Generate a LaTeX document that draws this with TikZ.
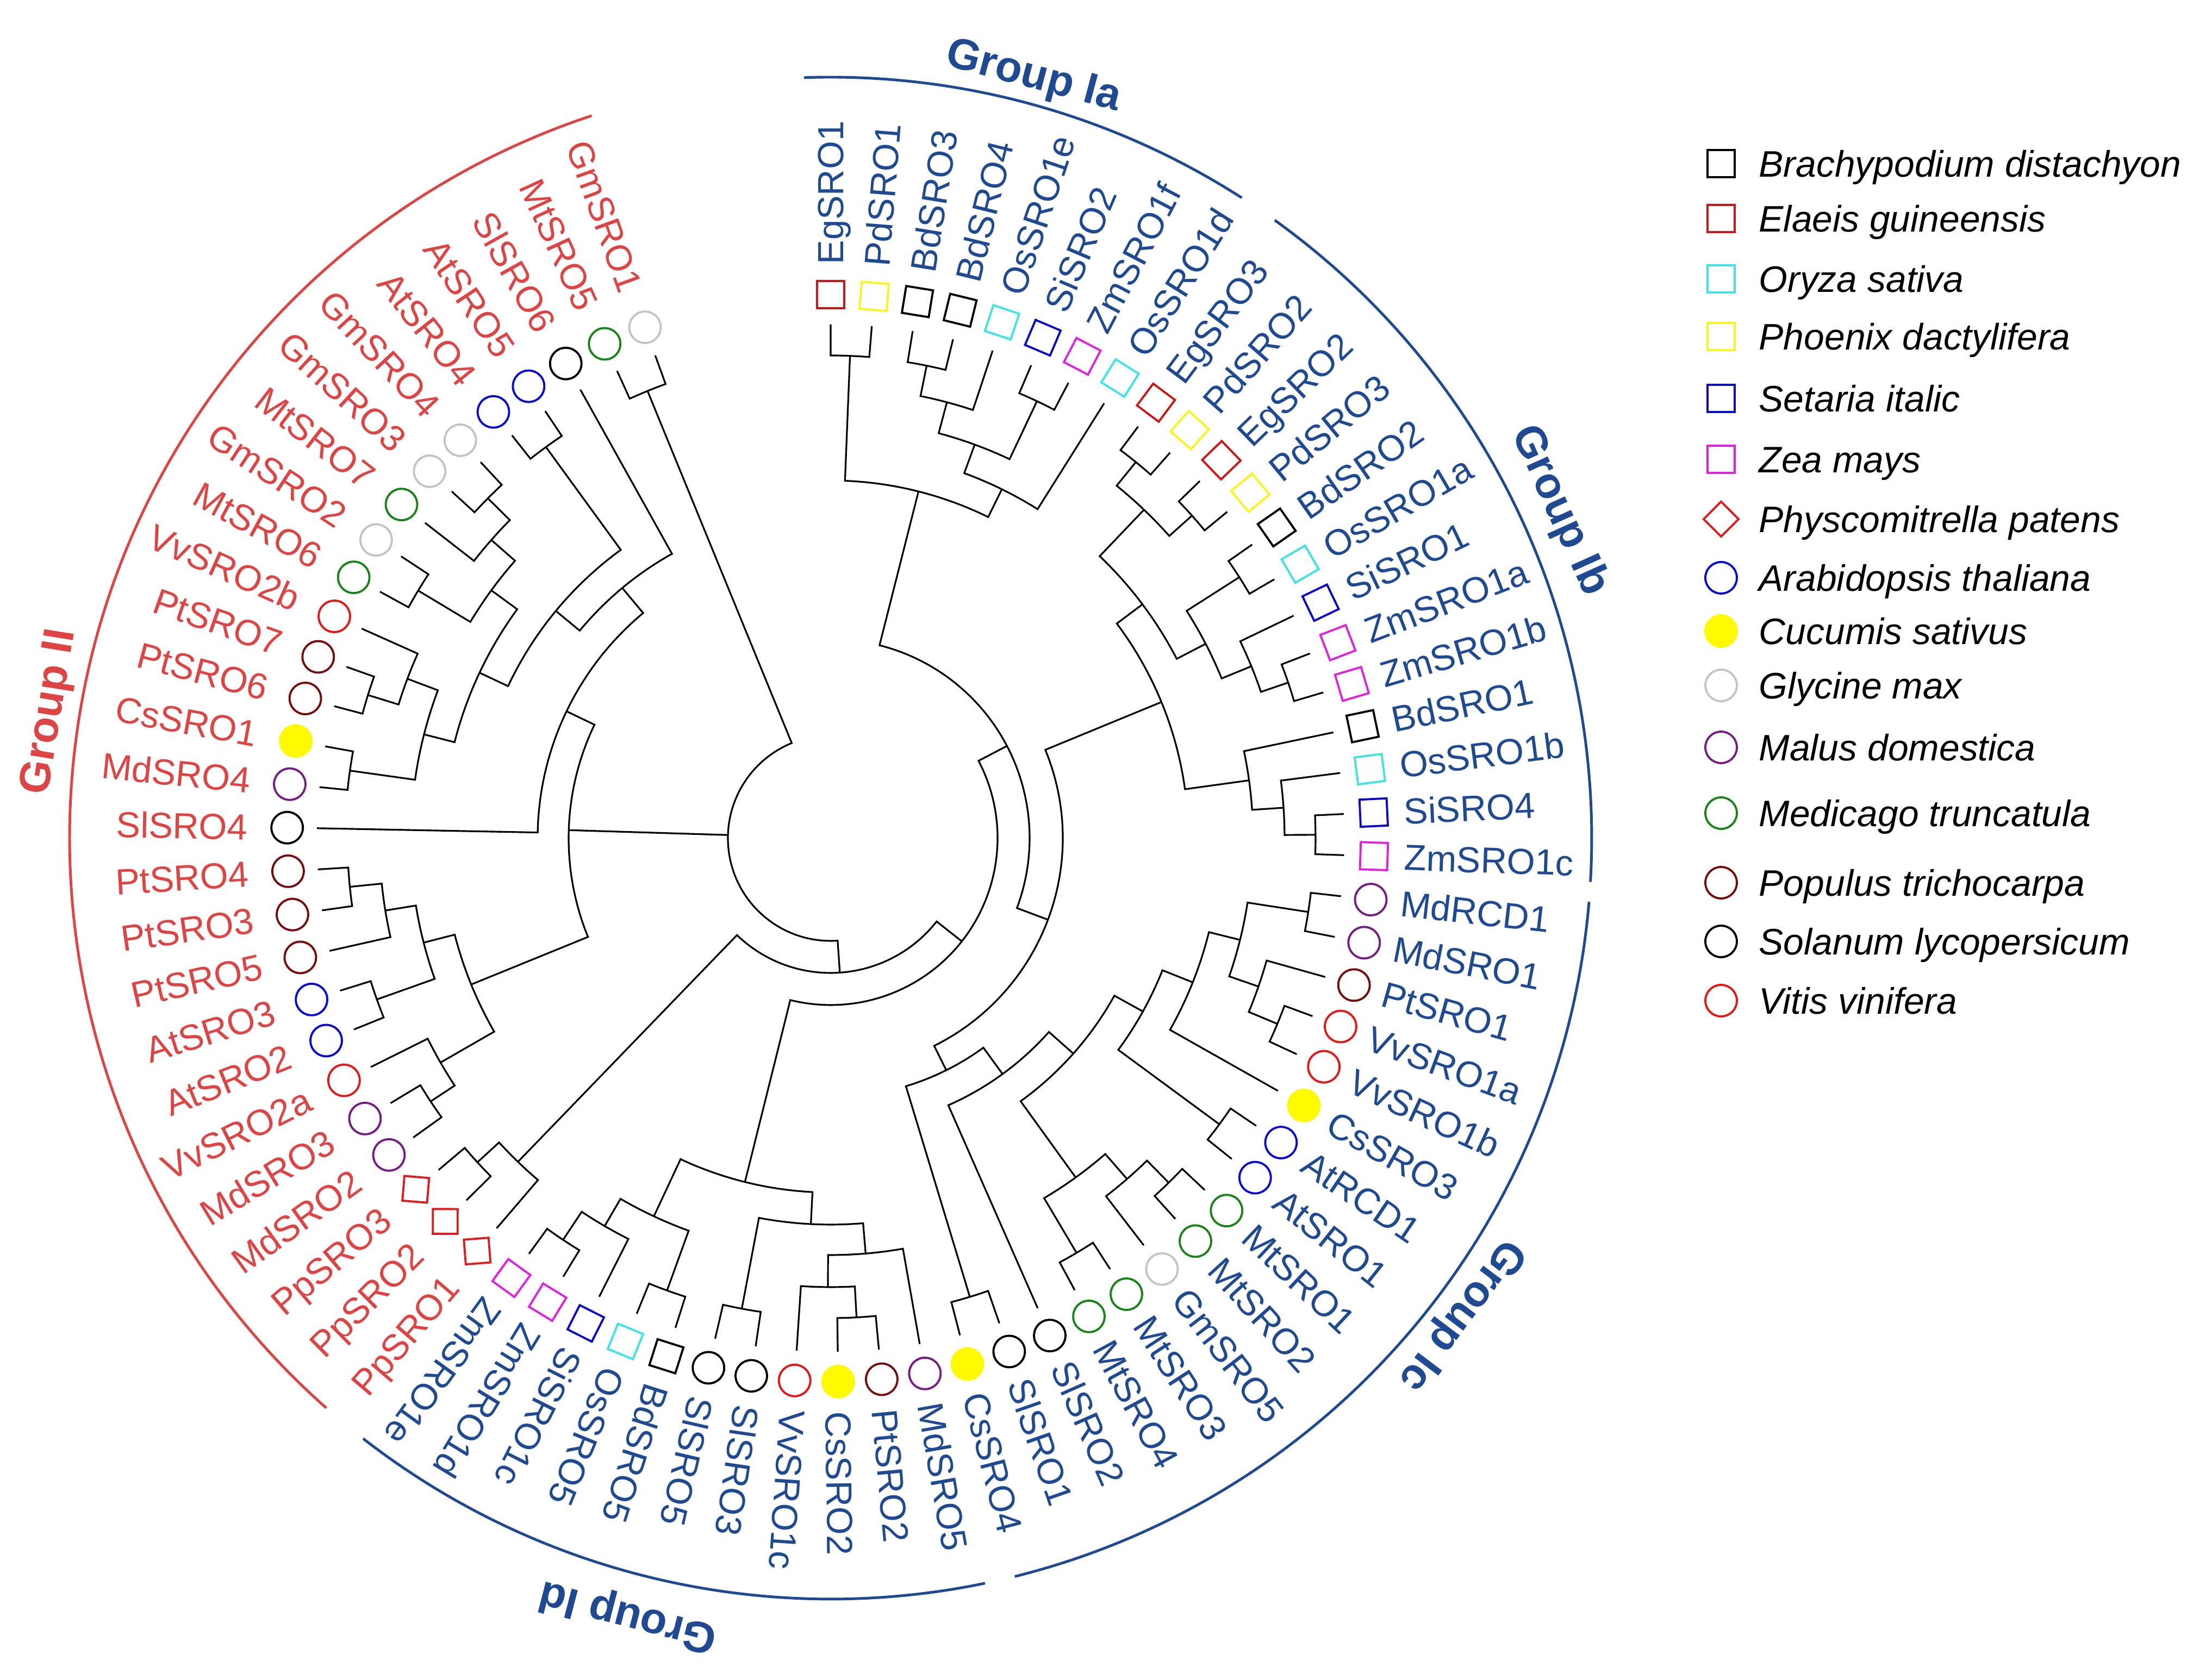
\documentclass[tikz,border=0pt]{standalone}
\usepackage{fontspec}
\setmainfont{Liberation Sans}
\usetikzlibrary{shapes.geometric}

\definecolor{grpblue}{RGB}{31,73,145}
\definecolor{grpred}{RGB}{221,68,68}
\definecolor{cEg}{RGB}{204,24,24}
\definecolor{cOs}{RGB}{64,228,228}
\definecolor{cPd}{RGB}{250,245,30}
\definecolor{cSi}{RGB}{10,10,200}
\definecolor{cZm}{RGB}{222,34,222}
\definecolor{cPp}{RGB}{222,30,30}
\definecolor{cAt}{RGB}{10,10,215}
\definecolor{cCs}{RGB}{255,250,0}
\definecolor{cGm}{RGB}{196,196,196}
\definecolor{cMd}{RGB}{118,28,130}
\definecolor{cMt}{RGB}{24,132,24}
\definecolor{cPt}{RGB}{118,12,12}
\definecolor{cVv}{RGB}{228,22,22}

\tikzset{branch/.style={line width=0.9pt}}
\tikzset{grparc/.style={line width=1.4pt}}
\tikzset{sqmk/.style={draw,rectangle,line width=1.1pt,inner sep=0pt,minimum size=0.5cm}}
\tikzset{cimk/.style={draw,circle,line width=1.1pt,inner sep=0pt,minimum size=0.58cm}}
\tikzset{dimk/.style={draw,diamond,line width=1.1pt,inner sep=0pt,minimum size=0.66cm}}
\tikzset{Bd/.style={sqmk,draw=black},Eg/.style={sqmk,draw=cEg},Os/.style={sqmk,draw=cOs},
         Pd/.style={sqmk,draw=cPd},Si/.style={sqmk,draw=cSi},Zm/.style={sqmk,draw=cZm},
         Pp/.style={dimk,draw=cPp},At/.style={cimk,draw=cAt},Cs/.style={cimk,draw=cCs,fill=cCs},
         Gm/.style={cimk,draw=cGm},Md/.style={cimk,draw=cMd},Mt/.style={cimk,draw=cMt},
         Pt/.style={cimk,draw=cPt},Sl/.style={cimk,draw=black},Vv/.style={cimk,draw=cVv}}
\tikzset{leaflab/.style={inner sep=0pt,font=\fontsize{19}{22}\selectfont,text height=13.6pt,text depth=0pt}}
\tikzset{leglab/.style={inner sep=0pt,font=\fontsize{19.3}{23}\selectfont\itshape,text height=13.8pt,text depth=0pt}}
\tikzset{grplab/.style={inner sep=0pt,font=\fontsize{22.8}{26}\selectfont\bfseries}}

% leaf: index, name, species style
\newcommand\sroleaf[3]{%
  \pgfmathsetmacro\lfang{90-4.595*#1}%
  \expandafter\xdef\csname ang@#2\endcsname{\lfang}%
  \coordinate (#2) at (\lfang:9.45);%
  \node[#3,rotate=\lfang] (m#2) at (\lfang:10) {};%
  \ifnum#1<48
    \node[leaflab,text=grpblue,rotate=\lfang,anchor=west] (t#2) at (\lfang:10.55) {#2};%
  \else
    \pgfmathsetmacro\lfrot{\lfang+180}%
    \node[leaflab,text=grpred,rotate=\lfrot,anchor=east] (t#2) at (\lfang:10.72) {#2};%
  \fi}
% clade: name, radius, child A, child B
\newcommand\sroclade[4]{%
  \edef\clA{\csname ang@#3\endcsname}%
  \edef\clB{\csname ang@#4\endcsname}%
  \pgfmathsetmacro\clM{(\clA+\clB)/2}%
  \expandafter\xdef\csname ang@#1\endcsname{\clM}%
  \coordinate (#1) at (\clM:#2);%
  \draw[branch] (#3) -- (\clA:#2) arc[start angle=\clA,end angle=\clB,radius=#2] -- (#4);}

\begin{document}
\begin{tikzpicture}
\useasboundingbox (-15.28,-15.47) rectangle (25.41,15.42);
\fill[white] (-15.28,-15.47) rectangle (25.41,15.42);

% leaves
\sroleaf{0}{EgSRO1}{Eg}   \sroleaf{1}{PdSRO1}{Pd}   \sroleaf{2}{BdSRO3}{Bd}
\sroleaf{3}{BdSRO4}{Bd}   \sroleaf{4}{OsSRO1e}{Os}  \sroleaf{5}{SiSRO2}{Si}
\sroleaf{6}{ZmSRO1f}{Zm}  \sroleaf{7}{OsSRO1d}{Os}  \sroleaf{8}{EgSRO3}{Eg}
\sroleaf{9}{PdSRO2}{Pd}   \sroleaf{10}{EgSRO2}{Eg}  \sroleaf{11}{PdSRO3}{Pd}
\sroleaf{12}{BdSRO2}{Bd}  \sroleaf{13}{OsSRO1a}{Os} \sroleaf{14}{SiSRO1}{Si}
\sroleaf{15}{ZmSRO1a}{Zm} \sroleaf{16}{ZmSRO1b}{Zm} \sroleaf{17}{BdSRO1}{Bd}
\sroleaf{18}{OsSRO1b}{Os} \sroleaf{19}{SiSRO4}{Si}  \sroleaf{20}{ZmSRO1c}{Zm}
\sroleaf{21}{MdRCD1}{Md}  \sroleaf{22}{MdSRO1}{Md}  \sroleaf{23}{PtSRO1}{Pt}
\sroleaf{24}{VvSRO1a}{Vv} \sroleaf{25}{VvSRO1b}{Vv} \sroleaf{26}{CsSRO3}{Cs}
\sroleaf{27}{AtRCD1}{At}  \sroleaf{28}{AtSRO1}{At}  \sroleaf{29}{MtSRO1}{Mt}
\sroleaf{30}{MtSRO2}{Mt}  \sroleaf{31}{GmSRO5}{Gm}  \sroleaf{32}{MtSRO3}{Mt}
\sroleaf{33}{MtSRO4}{Mt}  \sroleaf{34}{SlSRO2}{Sl}  \sroleaf{35}{SlSRO1}{Sl}
\sroleaf{36}{CsSRO4}{Cs}  \sroleaf{37}{MdSRO5}{Md}  \sroleaf{38}{PtSRO2}{Pt}
\sroleaf{39}{CsSRO2}{Cs}  \sroleaf{40}{VvSRO1c}{Vv} \sroleaf{41}{SlSRO3}{Sl}
\sroleaf{42}{SlSRO5}{Sl}  \sroleaf{43}{BdSRO5}{Bd}  \sroleaf{44}{OsSRO5}{Os}
\sroleaf{45}{SiSRO1c}{Si} \sroleaf{46}{ZmSRO1d}{Zm} \sroleaf{47}{ZmSRO1e}{Zm}
\sroleaf{48}{PpSRO1}{Pp}  \sroleaf{49}{PpSRO2}{Pp}  \sroleaf{50}{PpSRO3}{Pp}
\sroleaf{51}{MdSRO2}{Md}  \sroleaf{52}{MdSRO3}{Md}  \sroleaf{53}{VvSRO2a}{Vv}
\sroleaf{54}{AtSRO2}{At}  \sroleaf{55}{AtSRO3}{At}  \sroleaf{56}{PtSRO5}{Pt}
\sroleaf{57}{PtSRO3}{Pt}  \sroleaf{58}{PtSRO4}{Pt}  \sroleaf{59}{SlSRO4}{Sl}
\sroleaf{60}{MdSRO4}{Md}  \sroleaf{61}{CsSRO1}{Cs}  \sroleaf{62}{PtSRO6}{Pt}
\sroleaf{63}{PtSRO7}{Pt}  \sroleaf{64}{VvSRO2b}{Vv} \sroleaf{65}{MtSRO6}{Mt}
\sroleaf{66}{GmSRO2}{Gm}  \sroleaf{67}{MtSRO7}{Mt}  \sroleaf{68}{GmSRO3}{Gm}
\sroleaf{69}{GmSRO4}{Gm}  \sroleaf{70}{AtSRO4}{At}  \sroleaf{71}{AtSRO5}{At}
\sroleaf{72}{SlSRO6}{Sl}  \sroleaf{73}{MtSRO5}{Mt}  \sroleaf{74}{GmSRO1}{Gm}

% Group Ia / Ib
\sroclade{nA1}{8.88}{EgSRO1}{PdSRO1}
\sroclade{nI}{8.87}{BdSRO3}{BdSRO4}
\sroclade{nH}{8.30}{nI}{OsSRO1e}
\sroclade{nF}{8.89}{SiSRO2}{ZmSRO1f}
\sroclade{nG}{7.71}{nH}{nF}
\sroclade{nC}{7.15}{nG}{OsSRO1d}
\sroclade{nB}{6.58}{nA1}{nC}
\sroclade{nJa}{8.91}{EgSRO3}{PdSRO2}
\sroclade{nJb}{8.91}{EgSRO2}{PdSRO3}
\sroclade{nJ}{8.35}{nJa}{nJb}
\sroclade{nLa}{8.92}{BdSRO2}{OsSRO1a}
\sroclade{nLc}{8.89}{ZmSRO1a}{ZmSRO1b}
\sroclade{nLb}{8.36}{SiSRO1}{nLc}
\sroclade{nL}{7.77}{nLa}{nLb}
\sroclade{nK}{7.17}{nJ}{nL}
\sroclade{nNc}{8.92}{SiSRO4}{ZmSRO1c}
\sroclade{nNb}{8.35}{OsSRO1b}{nNc}
\sroclade{nNa}{7.77}{BdSRO1}{nNb}
\sroclade{nM}{6.58}{nK}{nNa}
% Group Ic
\sroclade{nMd}{8.89}{MdRCD1}{MdSRO1}
\sroclade{nVv}{8.90}{VvSRO1a}{VvSRO1b}
\sroclade{nQh}{8.33}{PtSRO1}{nVv}
\sroclade{nQg}{7.76}{nMd}{nQh}
\sroclade{nQf}{7.17}{nQg}{CsSRO3}
\sroclade{nQe}{8.88}{AtRCD1}{AtSRO1}
\sroclade{nQd}{6.57}{nQf}{nQe}
\sroclade{nXc}{8.88}{MtSRO1}{MtSRO2}
\sroclade{nXb}{8.31}{nXc}{GmSRO5}
\sroclade{nXa}{8.87}{MtSRO3}{MtSRO4}
\sroclade{nX}{7.70}{nXb}{nXa}
\sroclade{nQc}{5.97}{nQd}{nX}
\sroclade{nQb}{5.37}{nQc}{SlSRO2}
\sroclade{nY}{8.82}{SlSRO1}{CsSRO4}
\sroclade{nQ}{4.77}{nQb}{nY}
\sroclade{nP}{4.27}{nM}{nQ}
\sroclade{nR}{3.66}{nB}{nP}
% Group Id
\sroclade{nDh}{8.83}{PtSRO2}{CsSRO2}
\sroclade{nDg}{8.26}{nDh}{VvSRO1c}
\sroclade{nDf}{7.67}{MdSRO5}{nDg}
\sroclade{nDe}{8.81}{SlSRO3}{SlSRO5}
\sroclade{nDd}{7.11}{nDf}{nDe}
\sroclade{nDb}{8.85}{BdSRO5}{OsSRO5}
\sroclade{nDi}{8.88}{ZmSRO1d}{ZmSRO1e}
\sroclade{nDc}{8.26}{SiSRO1c}{nDi}
\sroclade{nDa}{7.68}{nDc}{nDb}
\sroclade{nD}{6.52}{nDd}{nDa}
\sroclade{nCC}{3.07}{nR}{nD}
% Pp
\sroclade{nPpb}{8.82}{PpSRO2}{PpSRO3}
\sroclade{nPp}{8.28}{PpSRO1}{nPpb}
\sroclade{nBp}{2.48}{nCC}{nPp}
% Group II
\sroclade{nVg}{8.81}{MdSRO2}{MdSRO3}
\sroclade{nVf}{8.28}{VvSRO2a}{nVg}
\sroclade{nVd}{8.86}{AtSRO2}{AtSRO3}
\sroclade{nVa}{8.89}{PtSRO3}{PtSRO4}
\sroclade{nVb}{8.30}{PtSRO5}{nVa}
\sroclade{nVc}{7.73}{nVb}{nVd}
\sroclade{nVe}{7.14}{nVc}{nVf}
\sroclade{nUf}{8.93}{MdSRO4}{CsSRO1}
\sroclade{nUh}{8.91}{PtSRO6}{PtSRO7}
\sroclade{nUg}{8.32}{nUh}{VvSRO2b}
\sroclade{nUd}{7.72}{nUf}{nUg}
\sroclade{nUi}{8.85}{MtSRO6}{GmSRO2}
\sroclade{nUk}{8.88}{GmSRO3}{GmSRO4}
\sroclade{nUj}{8.31}{MtSRO7}{nUk}
\sroclade{nUe}{7.73}{nUi}{nUj}
\sroclade{nUc}{7.14}{nUd}{nUe}
\sroclade{nUa}{8.90}{AtSRO4}{AtSRO5}
\sroclade{nUb}{6.56}{nUc}{nUa}
\sroclade{nT}{5.99}{nUb}{SlSRO6}
\sroclade{nS}{5.39}{SlSRO4}{nT}
\sroclade{nCt}{4.82}{nVe}{nS}
\sroclade{nGM}{8.89}{MtSRO5}{GmSRO1}
% root
\coordinate (root) at (0,0);
\edef\rtA{\csname ang@nBp\endcsname}
\edef\rtB{\csname ang@nGM\endcsname}
\edef\rtC{\csname ang@nCt\endcsname}
\draw[branch] (nBp) -- (\rtA:1.89) arc[start angle=\rtA,end angle=\rtB,radius=1.89] -- (nGM);
\draw[branch] (nCt) -- (\rtC:1.89);

% group arcs
\draw[grparc,grpblue] (92:14) arc[start angle=92,end angle=57.3,radius=14];
\draw[grparc,grpblue] (54.3:14) arc[start angle=54.3,end angle=-3.3,radius=14];
\draw[grparc,grpblue] (-4.8:14) arc[start angle=-4.8,end angle=-76,radius=14];
\draw[grparc,grpblue] (-78.3:14) arc[start angle=-78.3,end angle=-127.9,radius=14];
\draw[grparc,grpred] (-131.5:14) arc[start angle=-131.5,end angle=-251.7,radius=14];
\node[grplab,text=grpblue,rotate=-14.9] (gIa) at (75.1:14.48) {Group Ia};
\node[grplab,text=grpblue,rotate=-65.8] (gIb) at (24.2:14.69) {Group Ib};
\node[grplab,text=grpblue,rotate=-127.1] (gIc) at (-37.1:14.53) {Group Ic};
\node[grplab,text=grpblue,rotate=-194.6] (gId) at (-104.6:14.77) {Group Id};
\node[grplab,text=grpred,rotate=80.8] (gII) at (170.8:14.54) {Group II};

% legend
\foreach \sty/\yy/\nm [count=\k] in {Bd/12.41/Brachypodium distachyon,Eg/11.40/Elaeis guineensis,
    Os/10.29/Oryza sativa,Pd/9.23/Phoenix dactylifera,Si/8.09/Setaria italic,Zm/6.97/Zea mays,
    Pp/5.87/Physcomitrella patens,At/4.79/Arabidopsis thaliana,Cs/3.81/Cucumis sativus,
    Gm/2.81/Glycine max,Md/1.67/Malus domestica,Mt/0.46/Medicago truncatula,
    Pt/-0.82/Populus trichocarpa,Sl/-1.90/Solanum lycopersicum,Vv/-2.99/Vitis vinifera}{
  \node[\sty] (lm\k) at (16.38,\yy) {};
  \node[leglab,anchor=west] (lt\k) at (17.07,\yy) {\nm};
}
\end{tikzpicture}
\end{document}
